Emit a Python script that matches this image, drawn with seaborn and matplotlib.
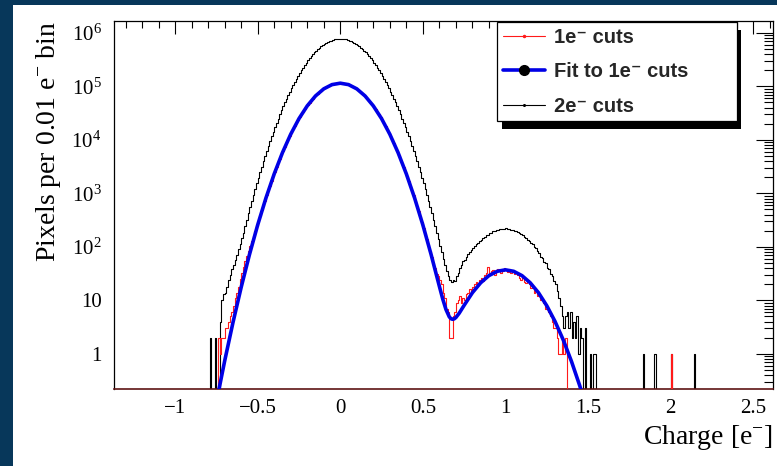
import numpy as np
import matplotlib
matplotlib.use("Agg")
import matplotlib.pyplot as plt
import seaborn as sns
from matplotlib.lines import Line2D
from matplotlib.patches import Rectangle
from matplotlib.ticker import MultipleLocator, LogLocator, FixedLocator, FixedFormatter, NullFormatter

# ---------------- data ----------------
BIN_WIDTH = 0.01

# 2e- cuts histogram: contiguous bins starting at centre -0.795
black_first_center = -0.795
black_counts = [
    0, 2, 0, 0, 2, 0, 0, 4, 10, 13,
    14, 18, 24, 30, 38, 46, 56, 70, 90, 115,
    145, 183, 243, 321, 422, 552, 718, 929, 1200, 1540,
    1960, 2500, 3160, 3960, 4970, 6180, 7660, 9440, 11600, 14200,
    17200, 20800, 25100, 30100, 35800, 42500, 50200, 58900, 68900, 80200,
    92900, 106900, 122700, 140000, 158900, 179500, 201800, 225400, 251200, 278600,
    306900, 336500, 367300, 399900, 431500, 464500, 497700, 529600, 562300, 592900,
    622300, 650100, 676100, 699800, 721100, 739600, 753400, 763800, 772700, 776200,
    776200, 772700, 763800, 753400, 739600, 721100, 699800, 676100, 650100, 622300,
    592900, 562300, 529600, 497700, 464500, 431500, 399900, 367300, 336500, 306900,
    278600, 251200, 225400, 201800, 179500, 158900, 140000, 122700, 106900, 92900,
    80200, 68900, 58900, 50200, 42500, 35800, 30100, 25100, 20800, 17200,
    14200, 11600, 9440, 7660, 6180, 4970, 3960, 3160, 2500, 1960,
    1540, 1200, 929, 718, 552, 422, 321, 243, 183, 140,
    105, 80, 60, 45, 35, 28, 24, 22, 24, 23,
    28, 33, 40, 45, 55, 58, 66, 72, 80, 87,
    97, 102, 114, 119, 131, 136, 149, 154, 166, 170,
    182, 185, 196, 198, 207, 207, 215, 214, 220, 217,
    221, 216, 217, 210, 209, 201, 199, 188, 184, 172,
    168, 155, 149, 136, 131, 117, 112, 99, 94, 82,
    78, 66, 63, 52, 50, 41, 38, 31, 29, 23,
    20, 15, 11, 8, 5, 3, 5, 6, 3, 6,
    2, 4, 2, 5, 1, 3, 2, 0, 3, 0,
    0, 1, 0, 1, 1, 0,
]
black_extra_centers = [1.835, 1.905, 2.005, 2.145]
black_extra_counts = [1, 1, 1, 1]

# 1e- cuts histogram: contiguous bins starting at centre -0.735
red_first_center = -0.735
red_counts = [
    2, 1, 2, 2, 3, 3, 4, 5, 6, 8,
    11, 14, 18, 25, 33, 42, 55, 68, 85, 105,
    130, 160, 200, 250, 310, 385, 480, 586, 735, 914,
    1130, 1400, 1710, 2090, 2550, 3080, 3710, 4450, 5300, 6280,
    7430, 8710, 10190, 11860, 13740, 15810, 18160, 20700, 23500, 26550,
    29850, 33340, 37150, 41210, 45400, 49770, 54330, 59160, 63830, 68710,
    73620, 78340, 83180, 87700, 92050, 96160, 100000, 103500, 106700, 109400,
    111400, 113000, 114300, 114800, 114800, 114300, 113000, 111400, 109400, 106700,
    103500, 100000, 96160, 92050, 87700, 83180, 78340, 73620, 68710, 63830,
    59160, 54330, 49770, 45400, 41210, 37150, 33340, 29850, 26550, 23500,
    20700, 18160, 15810, 13740, 11860, 10190, 8710, 7430, 6280, 5300,
    4450, 3710, 3080, 2550, 2090, 1710, 1400, 1130, 914, 735,
    586, 470, 375, 295, 230, 180, 140, 108, 84, 65,
    50, 40, 31, 28, 24, 20, 14, 11, 7, 6,
    2, 2, 5, 6, 9, 10, 12, 9, 11, 10,
    13, 14, 16, 14, 18, 20, 22, 19, 24, 26,
    23, 30, 33, 42, 32, 36, 37, 30, 34, 38,
    37, 32, 36, 40, 37, 34, 38, 33, 36, 31,
    33, 30, 26, 24, 27, 22, 21, 24, 20, 17,
    18, 14, 15, 12, 13, 10, 11, 9, 7, 8,
    6, 5, 4, 3, 3, 2, 1, 1, 2, 1,
    2, 0,
]
red_extra_centers = [2.005]
red_extra_counts = [1]

# Fit to 1e- cuts (sampled points of the fitted curve)
fit_x = [-0.75, -0.70, -0.65, -0.60, -0.55, -0.50, -0.45, -0.40, -0.35, -0.30,
         -0.25, -0.20, -0.15, -0.10, -0.05, 0.00, 0.05, 0.10, 0.15, 0.20,
         0.25, 0.30, 0.35, 0.40, 0.45, 0.50, 0.55, 0.60, 0.62, 0.64,
         0.66, 0.67, 0.68, 0.69, 0.70, 0.72, 0.75, 0.80, 0.85, 0.90,
         0.95, 1.00, 1.05, 1.10, 1.15, 1.20, 1.25, 1.30, 1.35, 1.40,
         1.45, 1.50]
fit_y = [0.125, 0.735, 3.815, 17.54, 71.4, 257, 819, 2312, 5774, 12760,
         24970, 43250, 66300, 89950, 108000, 114800, 108000, 89950, 66300, 43250,
         24970, 12760, 5774, 2312, 819, 257, 71.7, 18.3, 10.7, 6.74,
         4.92, 4.54, 4.42, 4.51, 4.78, 5.75, 8.08, 13.9, 21.3, 29.0,
         34.9, 37.2, 34.9, 29.0, 21.3, 13.9, 7.96, 4.05, 1.82, 0.72,
         0.253, 0.0785]

x_ticks = [-1, -0.5, 0, 0.5, 1, 1.5, 2, 2.5]
x_tick_labels = ["\u22121", "\u22120.5", "0", "0.5", "1", "1.5", "2", "2.5"]
y_ticks = [1, 10, 1e2, 1e3, 1e4, 1e5, 1e6]
y_tick_labels = ["1", "10", r"$\mathdefault{10^{2}}$", r"$\mathdefault{10^{3}}$",
                 r"$\mathdefault{10^{4}}$", r"$\mathdefault{10^{5}}$", r"$\mathdefault{10^{6}}$"]
legend_labels = ["1e\u207b cuts", "Fit to 1e\u207b cuts", "2e\u207b cuts"]
x_label = r"Charge [e$^{-}$]"
y_label = r"Pixels per 0.01 e$^{-}$ bin"

# ---------------- style ----------------
sns.set_theme(style="white")
plt.rcParams["font.family"] = ["Liberation Serif", "DejaVu Serif"]
plt.rcParams["mathtext.fontset"] = "custom"
plt.rcParams["mathtext.rm"] = "Liberation Serif"
plt.rcParams["mathtext.it"] = "Liberation Serif:italic"
plt.rcParams["mathtext.bf"] = "Liberation Serif:bold"
plt.rcParams["axes.unicode_minus"] = True

W, H = 777, 466
fig = plt.figure(figsize=(W / 100, H / 100), dpi=100, facecolor="#07375a")
fig.patches.append(Rectangle((13 / W, 0), 1, 1 - 5 / H, transform=fig.transFigure,
                             facecolor="white", edgecolor="none", zorder=-1))
ax_l, ax_r, ax_t, ax_b = 114, 773, 21, 389
ax = fig.add_axes([ax_l / W, 1 - ax_b / H, (ax_r - ax_l) / W, (ax_b - ax_t) / H])
ax.set_facecolor("white")

# full bin grid
x_lo, x_hi = -1.37, 2.62
n_bins = int(round((x_hi - x_lo) / BIN_WIDTH))
centers = np.round(x_lo + BIN_WIDTH / 2 + np.arange(n_bins) * BIN_WIDTH, 3)


def fill(first, counts, extra_c, extra_n):
    full = np.zeros(n_bins)
    i0 = int(round((first - centers[0]) / BIN_WIDTH))
    full[i0:i0 + len(counts)] = counts
    for c, n in zip(extra_c, extra_n):
        full[int(round((c - centers[0]) / BIN_WIDTH))] = n
    return full


black_full = fill(black_first_center, black_counts, black_extra_centers, black_extra_counts)
red_full = fill(red_first_center, red_counts, red_extra_centers, red_extra_counts)

sns.lineplot(x=centers, y=black_full, ax=ax, color="black", lw=0.8,
             drawstyle="steps-mid", estimator=None, sort=False, legend=False, zorder=2)
sns.lineplot(x=centers, y=red_full, ax=ax, color="#ff1a1a", lw=0.8,
             drawstyle="steps-mid", estimator=None, sort=False, legend=False, zorder=3)
sns.lineplot(x=fit_x, y=fit_y, ax=ax, color="#0000e6", lw=2.6,
             estimator=None, sort=False, legend=False, zorder=4)

ax.set_yscale("log", nonpositive="clip")
ax.set_xlim(x_lo, x_hi)
ax.set_ylim(0.22, 1.67e6)

ax.xaxis.set_major_locator(FixedLocator(x_ticks))
ax.xaxis.set_major_formatter(FixedFormatter(x_tick_labels))
ax.xaxis.set_minor_locator(MultipleLocator(0.1))
ax.yaxis.set_major_locator(FixedLocator(y_ticks))
ax.yaxis.set_major_formatter(FixedFormatter(y_tick_labels))
ax.yaxis.set_minor_locator(LogLocator(base=10, subs=np.arange(2, 10), numticks=20))
ax.yaxis.set_minor_formatter(NullFormatter())

for s in ax.spines.values():
    s.set_color("black")
    s.set_linewidth(0.9)
ax.spines["bottom"].set_color("#5e1414")
ax.spines["bottom"].set_linewidth(1.2)

ax.tick_params(axis="both", which="both", direction="in", top=True, right=True,
               color="black", labelcolor="black")
ax.tick_params(axis="x", which="major", length=9, width=0.8, pad=7, labelsize=15)
ax.tick_params(axis="x", which="minor", length=4.8, width=0.8)
ax.tick_params(axis="y", which="major", length=12.5, width=0.8, pad=9, labelsize=15)
ax.tick_params(axis="y", which="minor", length=6.3, width=0.8)

ax.set_xlabel(x_label, loc="right", fontsize=20, labelpad=4, color="black")
ax.set_ylabel(y_label, loc="top", fontsize=20, labelpad=6, color="black")

# legend
handles = [
    Line2D([], [], color="#ff1a1a", lw=0.8, marker="o", markersize=1.5),
    Line2D([], [], color="#0000e6", lw=2.6, marker="o", markersize=7,
           markerfacecolor="black", markeredgecolor="black"),
    Line2D([], [], color="black", lw=0.8, marker="o", markersize=1.2),
]
x0 = (497 - ax_l) / (ax_r - ax_l)
wl = (737 - 497) / (ax_r - ax_l)
leg = ax.legend(handles, legend_labels, loc="upper left",
                bbox_to_anchor=(x0, 0, wl, 1.0 - 1 / (ax_b - ax_t)), mode="expand",
                borderaxespad=0, frameon=True, fancybox=False, shadow=False,
                prop={"family": ["Liberation Sans", "DejaVu Sans"], "weight": "bold", "size": 14.5},
                handlelength=2.1, handletextpad=0.45, labelspacing=0.77, borderpad=0.28,
                framealpha=1)
leg.get_frame().set_edgecolor("black")
leg.get_frame().set_linewidth(0.9)
leg.set_zorder(6)

fig.canvas.draw()
bb = leg.get_window_extent()
inv = ax.transAxes.inverted()
(x0a, y0a) = inv.transform((bb.x0 + 5, bb.y0 - 8))
(x1a, y1a) = inv.transform((bb.x1 + 4, bb.y1 - 8))
ax.add_patch(Rectangle((x0a, y0a), x1a - x0a, y1a - y0a, transform=ax.transAxes,
                       facecolor="black", edgecolor="none", zorder=5.5, clip_on=False))

fig.savefig("out.png", dpi=100, facecolor=fig.get_facecolor())
